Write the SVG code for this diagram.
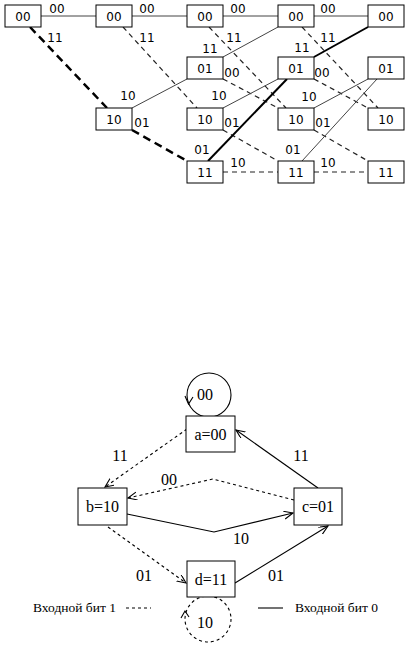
<svg xmlns="http://www.w3.org/2000/svg" width="412" height="649" viewBox="0 0 412 649">
<style>
.tb{fill:#fff;stroke:#000;stroke-width:1}
.tt{font-family:"DejaVu Sans",sans-serif;font-size:12px;fill:#000;text-anchor:middle}
.ts{stroke:#444;stroke-width:1;fill:none}
.td{stroke:#222;stroke-width:1.2;stroke-dasharray:5,4;fill:none}
.tks{stroke:#000;stroke-width:2;fill:none}
.tkd{stroke:#000;stroke-width:2.5;stroke-dasharray:8,5;fill:none}
.sb{fill:#fff;stroke:#000;stroke-width:1}
.st{font-family:"Liberation Serif",serif;font-size:16px;fill:#000;text-anchor:middle}
.lg{font-family:"Liberation Serif",serif;font-size:13.5px;fill:#000}
.ss{stroke:#000;stroke-width:1.1;fill:none}
.sd{stroke:#000;stroke-width:1.1;stroke-dasharray:3,3;fill:none}
</style>
<defs>
<marker id="ah" markerUnits="userSpaceOnUse" markerWidth="12" markerHeight="10" refX="9" refY="4" orient="auto">
<path d="M0,0 L9,4 L0,8" fill="none" stroke="#000" stroke-width="1.1"/>
</marker>
</defs>

<!-- trellis connectors -->
<g id="trellis-connectors">
<line class="ts" x1="41" y1="16" x2="96" y2="16"/>
<line class="tkd" x1="30" y1="27" x2="107" y2="108"/>
<line class="ts" x1="132" y1="16" x2="187" y2="16"/>
<line class="td" x1="123" y1="27" x2="197" y2="108"/>
<line class="ts" x1="132" y1="108" x2="187" y2="79"/>
<line class="tkd" x1="132" y1="130" x2="187" y2="161"/>
<line class="ts" x1="223" y1="16" x2="278" y2="16"/>
<line class="td" x1="209" y1="27" x2="286" y2="108"/>
<line class="ts" x1="223" y1="57" x2="278" y2="27"/>
<line class="td" x1="223" y1="79" x2="278" y2="108"/>
<line class="ts" x1="223" y1="108" x2="278" y2="79"/>
<line class="td" x1="223" y1="130" x2="278" y2="161"/>
<line class="tks" x1="208" y1="161" x2="287" y2="79"/>
<line class="td" x1="223" y1="172" x2="278" y2="172"/>
<line class="ts" x1="314" y1="16" x2="368" y2="16"/>
<line class="td" x1="302" y1="27" x2="378" y2="108"/>
<line class="tks" x1="314" y1="57" x2="368" y2="27"/>
<line class="td" x1="314" y1="79" x2="368" y2="108"/>
<line class="ts" x1="314" y1="108" x2="368" y2="79"/>
<line class="td" x1="314" y1="130" x2="368" y2="161"/>
<line class="ts" x1="302" y1="161" x2="377" y2="79"/>
<line class="td" x1="314" y1="172" x2="368" y2="172"/>
</g>
<g id="trellis-labels">
<text class="tt" x="57" y="13">00</text>
<text class="tt" x="147" y="13">00</text>
<text class="tt" x="238" y="13">00</text>
<text class="tt" x="328" y="13">00</text>
<text class="tt" x="55" y="42">11</text>
<text class="tt" x="147" y="42">11</text>
<text class="tt" x="234" y="42">11</text>
<text class="tt" x="328" y="42">11</text>
<text class="tt" x="210" y="53">11</text>
<text class="tt" x="302" y="52">11</text>
<text class="tt" x="232" y="77">00</text>
<text class="tt" x="322" y="77">00</text>
<text class="tt" x="128" y="100">10</text>
<text class="tt" x="219" y="100">10</text>
<text class="tt" x="309" y="101">10</text>
<text class="tt" x="142" y="127">01</text>
<text class="tt" x="232" y="127">01</text>
<text class="tt" x="323" y="127">01</text>
<text class="tt" x="202" y="154">01</text>
<text class="tt" x="293" y="154">01</text>
<text class="tt" x="238" y="167">10</text>
<text class="tt" x="328" y="167">10</text>
</g>

<!-- trellis nodes -->
<g id="t1-00"><rect class="tb" x="5" y="5" width="36" height="22"/><text class="tt" x="23" y="20.5">00</text></g>
<g id="t2-00"><rect class="tb" x="96" y="5" width="36" height="22"/><text class="tt" x="114" y="20.5">00</text></g>
<g id="t2-10"><rect class="tb" x="96" y="108" width="36" height="22"/><text class="tt" x="114" y="123.5">10</text></g>
<g id="t3-00"><rect class="tb" x="187" y="5" width="36" height="22"/><text class="tt" x="205" y="20.5">00</text></g>
<g id="t3-01"><rect class="tb" x="187" y="57" width="36" height="22"/><text class="tt" x="205" y="72.5">01</text></g>
<g id="t3-10"><rect class="tb" x="187" y="108" width="36" height="22"/><text class="tt" x="205" y="123.5">10</text></g>
<g id="t3-11"><rect class="tb" x="187" y="161" width="36" height="22"/><text class="tt" x="205" y="176.5">11</text></g>
<g id="t4-00"><rect class="tb" x="278" y="5" width="36" height="22"/><text class="tt" x="296" y="20.5">00</text></g>
<g id="t4-01"><rect class="tb" x="278" y="57" width="36" height="22"/><text class="tt" x="296" y="72.5">01</text></g>
<g id="t4-10"><rect class="tb" x="278" y="108" width="36" height="22"/><text class="tt" x="296" y="123.5">10</text></g>
<g id="t4-11"><rect class="tb" x="278" y="161" width="36" height="22"/><text class="tt" x="296" y="176.5">11</text></g>
<g id="t5-00"><rect class="tb" x="368" y="5" width="36" height="22"/><text class="tt" x="386" y="20.5">00</text></g>
<g id="t5-01"><rect class="tb" x="368" y="57" width="36" height="22"/><text class="tt" x="386" y="72.5">01</text></g>
<g id="t5-10"><rect class="tb" x="368" y="108" width="36" height="22"/><text class="tt" x="386" y="123.5">10</text></g>
<g id="t5-11"><rect class="tb" x="368" y="161" width="36" height="22"/><text class="tt" x="386" y="176.5">11</text></g>

<!-- state diagram connectors -->
<g id="state-connectors">
<circle class="ss" cx="209" cy="395" r="22"/>
<polyline class="ss" points="185,396 188.5,404 193,397"/>
<path class="sd" d="M187,429 L105,487" marker-end="url(#ah)"/>
<path class="ss" d="M318,488 L236,430" marker-end="url(#ah)"/>
<path class="sd" d="M294,500 L213,479 L128,498" marker-end="url(#ah)"/>
<path class="ss" d="M127,514 L214,532 L293,513" marker-end="url(#ah)"/>
<path class="sd" d="M108,527 L186,583" marker-end="url(#ah)"/>
<path class="ss" d="M235,583 L328,526" marker-end="url(#ah)"/>
<circle class="sd" cx="208" cy="619" r="23"/>
<polyline class="ss" points="181,618 185,611 189,617"/>
<text class="st" x="205" y="400">00</text>
<text class="st" x="120" y="461">11</text>
<text class="st" x="301" y="461">11</text>
<text class="st" x="169" y="485">00</text>
<text class="st" x="241" y="544">10</text>
<text class="st" x="144" y="581">01</text>
<text class="st" x="276" y="581">01</text>
<text class="st" x="205" y="628">10</text>
</g>

<!-- state nodes -->
<g id="s-a"><rect class="sb" x="186" y="416" width="49" height="36"/><text class="st" x="210.5" y="440">a=00</text></g>
<g id="s-b"><rect class="sb" x="78" y="488" width="49" height="37"/><text class="st" x="102.5" y="512">b=10</text></g>
<g id="s-c"><rect class="sb" x="294" y="488" width="48" height="37"/><text class="st" x="318" y="512">c=01</text></g>
<g id="s-d"><rect class="sb" x="187" y="561" width="48" height="36"/><text class="st" x="211" y="585">d=11</text></g>

<!-- legend -->
<g id="legend">
<text class="lg" x="33" y="612">Входной бит 1</text>
<line class="sd" x1="126" y1="608" x2="151" y2="608"/>
<line class="ss" x1="258" y1="608" x2="283" y2="608"/>
<text class="lg" x="295" y="612">Входной бит 0</text>
</g>
</svg>
